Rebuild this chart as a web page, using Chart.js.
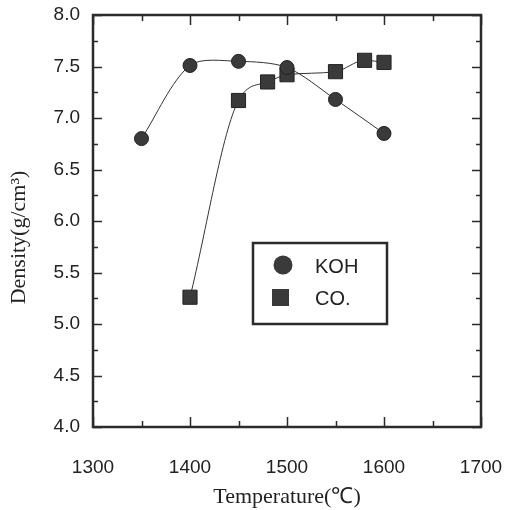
<!DOCTYPE html>
<html>
<head>
<meta charset="utf-8">
<script src="https://cdn.jsdelivr.net/npm/chart.js@4/dist/chart.umd.min.js"></script>
<style>
  html, body { margin: 0; padding: 0; background: #fff; }
  #wrap { width: 505px; height: 510px; position: relative; }
</style>
</head>
<body>
<div id="wrap"><canvas id="c" width="505" height="510"></canvas></div>
<script>
// ---- data ----
const kohTemp    = [1350, 1400, 1450, 1500, 1550, 1600];
const kohDensity = [6.80, 7.51, 7.55, 7.49, 7.18, 6.85];
const coTemp     = [1400, 1450, 1480, 1500, 1550, 1580, 1600];
const coDensity  = [5.26, 7.17, 7.35, 7.42, 7.45, 7.56, 7.54];
const seriesLabels = ['KOH', 'CO.'];
const xTickValues  = [1300, 1400, 1500, 1600, 1700];
const xMinorValues = [1350, 1450, 1550, 1650];
const yTickValues  = [4.0, 4.5, 5.0, 5.5, 6.0, 6.5, 7.0, 7.5, 8.0];
const yMinorValues = [4.25, 4.75, 5.25, 5.75, 6.25, 6.75, 7.25, 7.75];
const xTitle = 'Temperature(\u2103)';
const yTitle = 'Density(g/cm\u00B3)';

const ink = '#2b2b2b';

const framePlugin = {
  id: 'frame',
  afterDatasetsDraw(chart) {
    const {ctx, chartArea: a, scales: {x, y}} = chart;
    ctx.save();
    ctx.strokeStyle = ink;
    // ticks (inward, all four sides)
    ctx.lineWidth = 1.5;
    const xt = (vals, len) => vals.forEach(v => {
      const px = Math.round(x.getPixelForValue(v)) + 0.5;
      ctx.beginPath();
      ctx.moveTo(px, a.bottom); ctx.lineTo(px, a.bottom - len);
      ctx.moveTo(px, a.top); ctx.lineTo(px, a.top + len);
      ctx.stroke();
    });
    const yt = (vals, len) => vals.forEach(v => {
      const py = Math.round(y.getPixelForValue(v)) + 0.5;
      ctx.beginPath();
      ctx.moveTo(a.left, py); ctx.lineTo(a.left + len, py);
      ctx.moveTo(a.right, py); ctx.lineTo(a.right - len, py);
      ctx.stroke();
    });
    xt(xTickValues, 10); xt(xMinorValues, 6);
    yt(yTickValues, 9);  yt(yMinorValues, 5);
    // frame
    ctx.lineWidth = 2.5;
    ctx.strokeRect(a.left, a.top, a.right - a.left, a.bottom - a.top);

    // legend box inside the plot
    const lx = a.left + 160, ly = a.top + 228, lw = 134, lh = 81;
    ctx.fillStyle = '#fff';
    ctx.fillRect(lx, ly, lw, lh);
    ctx.lineWidth = 2.5;
    ctx.strokeRect(lx, ly, lw, lh);
    const ds = chart.data.datasets;
    ctx.font = '20px "Liberation Sans", Arial, sans-serif';
    ctx.textBaseline = 'middle';
    ctx.textAlign = 'left';
    // KOH
    ctx.fillStyle = ds[0].backgroundColor;
    ctx.beginPath(); ctx.arc(lx + 30, ly + 22, 9.5, 0, Math.PI * 2); ctx.fill();
    ctx.fillStyle = '#222';
    ctx.fillText(ds[0].label, lx + 62, ly + 24);
    // CO.
    ctx.fillStyle = ds[1].backgroundColor;
    ctx.fillRect(lx + 19, ly + 46, 17, 17);
    ctx.fillStyle = '#222';
    ctx.fillText(ds[1].label, lx + 62, ly + 56);
    ctx.restore();
  }
};

new Chart(document.getElementById('c'), {
  type: 'line',
  data: {
    datasets: [
      {
        label: seriesLabels[0],
        data: kohTemp.map((t, i) => ({x: t, y: kohDensity[i]})),
        borderColor: '#333', borderWidth: 1,
        backgroundColor: '#3a3a3a',
        pointStyle: 'circle', pointRadius: 7,
        pointBackgroundColor: '#3a3a3a', pointBorderColor: '#222', pointBorderWidth: 1,
        tension: 0.3, fill: false
      },
      {
        label: seriesLabels[1],
        data: coTemp.map((t, i) => ({x: t, y: coDensity[i]})),
        borderColor: '#333', borderWidth: 1,
        backgroundColor: '#3a3a3a',
        pointStyle: 'rect', pointRadius: 10,
        pointBackgroundColor: '#3a3a3a', pointBorderColor: '#222', pointBorderWidth: 1,
        cubicInterpolationMode: 'monotone', fill: false
      }
    ]
  },
  options: {
    responsive: false,
    animation: false,
    layout: { padding: { top: 15, right: 24, left: 0, bottom: 0 } },
    plugins: { legend: { display: false }, tooltip: { enabled: false } },
    scales: {
      x: {
        type: 'linear', min: 1300, max: 1700,
        afterBuildTicks: s => { s.ticks = xTickValues.map(v => ({value: v})); },
        afterFit: s => { s.height = 83; s.paddingLeft = 0; s.paddingRight = 0; },
        grid: { display: false, drawTicks: false },
        border: { display: false },
        ticks: { padding: 29, color: '#222', font: { family: '"Liberation Sans", Arial, sans-serif', size: 19 },
                 maxRotation: 0, callback: v => String(v) },
        title: { display: true, text: xTitle, color: '#222', padding: 0,
                 font: { family: '"Liberation Serif", "Times New Roman", serif', size: 22 } }
      },
      y: {
        type: 'linear', min: 4, max: 8,
        afterBuildTicks: s => { s.ticks = yTickValues.map(v => ({value: v})); },
        afterFit: s => { s.width = 93; s.paddingTop = 0; s.paddingBottom = 0; },
        grid: { display: false, drawTicks: false },
        border: { display: false },
        ticks: { padding: 13, color: '#222', font: { family: '"Liberation Sans", Arial, sans-serif', size: 19 },
                 callback: v => Number(v).toFixed(1) },
        title: { display: true, text: yTitle + '\u00A0\u00A0\u00A0\u00A0\u00A0\u00A0', color: '#222', padding: { top: 6 },
                 font: { family: '"Liberation Serif", "Times New Roman", serif', size: 22 } }
      }
    }
  },
  plugins: [framePlugin]
});
</script>
</body>
</html>
